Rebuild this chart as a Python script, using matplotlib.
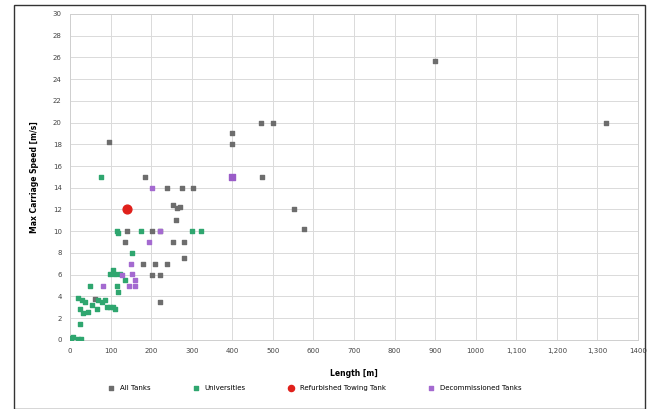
import matplotlib.pyplot as plt
from matplotlib.patches import Rectangle

# All tanks (grey squares)
all_x = [400, 400, 470, 500, 900, 1322, 552, 576, 472, 185, 240, 277, 303,
         254, 263, 271, 261, 140, 203, 222, 135, 253, 281, 281, 180, 210,
         240, 201, 222, 222, 62, 97]
all_y = [19, 18, 20, 20, 25.7, 20, 12.0, 10.2, 15, 15, 14, 14, 14,
         12.4, 12.1, 12.2, 11, 10, 10, 10, 9, 9, 9, 7.5, 7, 7,
         7, 6, 6, 3.5, 3.8, 18.2]

# Universities (green squares)
uni_x = [76, 117, 176, 300, 323, 152, 115, 49, 115, 119, 99, 107, 111, 123,
         135, 20, 29, 37, 25, 33, 45, 53, 66, 70, 78, 86, 90, 99, 107, 111,
         25, 2, 8, 20, 28]
uni_y = [15, 9.8, 10, 10, 10, 8, 10, 5, 5, 4.45, 6.1, 6.4, 6.1, 6.1,
         5.5, 3.9, 3.7, 3.5, 2.8, 2.45, 2.6, 3.2, 2.8, 3.7, 3.5, 3.7, 3.0, 3.0, 3.0, 2.8,
         1.5, 0.2, 0.3, 0.1, 0.1]

# Refurbished towing tank (red)
ref_x = [140]
ref_y = [12.0]

# Decommissioned tanks (purple squares)
dec_x = [400, 203, 195, 222, 150, 82, 160, 144, 127, 152, 160]
dec_y = [15, 14, 9, 10, 7, 5, 5, 5, 6, 6.1, 5.5]

x_ticks = list(range(0, 1401, 100))
x_labels = ["0", "100", "200", "300", "400", "500", "600", "700", "800", "900",
            "1000", "1,100", "1,200", "1,300", "1400"]
y_ticks = list(range(0, 31, 2))

fig = plt.figure(figsize=(6.49, 4.09), dpi=100)
ax = fig.add_axes([0.108, 0.169, 0.875, 0.797])

ax.scatter(all_x, all_y, marker='s', s=12, color='#6d6d6d', zorder=3, label='All Tanks')
ax.scatter(uni_x, uni_y, marker='s', s=12, color='#2fa66f', zorder=4, label='Universities')
ax.scatter(ref_x, ref_y, marker='o', s=40, color='#e0201b', zorder=5, label='Refurbished Towing Tank')
ax.scatter(dec_x, dec_y, marker='s', s=12, color='#a46ad0', zorder=4, label='Decommissioned Tanks')
# larger decommissioned marker at 400 m
ax.scatter(dec_x[:1], dec_y[:1], marker='s', s=24, color='#9a5cc8', zorder=4)

ax.set_xlim(0, 1400)
ax.set_ylim(0, 30)
ax.set_xticks(x_ticks)
ax.set_xticklabels(x_labels)
ax.set_yticks(y_ticks)
ax.tick_params(labelsize=5, length=0, colors='#444444', pad=6)
ax.grid(True, color='#dadada', linewidth=0.7)
ax.set_axisbelow(True)
for s in ax.spines.values():
    s.set_color('#cfcfcf')
    s.set_linewidth(0.7)

ax.set_xlabel('Length [m]', fontsize=5.5, fontweight='bold', labelpad=11)
ax.set_ylabel('Max Carriage Speed [m/s]', fontsize=5.5, fontweight='bold', labelpad=10)

fig.legend(loc='center', bbox_to_anchor=(0.482, 0.052), ncol=4, fontsize=5,
           frameon=False, handletextpad=0.3, columnspacing=5.5, markerscale=0.7)

fig.patches.append(Rectangle((0.022, 0.0), 0.972, 0.988, transform=fig.transFigure,
                             fill=False, edgecolor='#333333', linewidth=1.0))

fig.savefig('out.png', dpi=100)
